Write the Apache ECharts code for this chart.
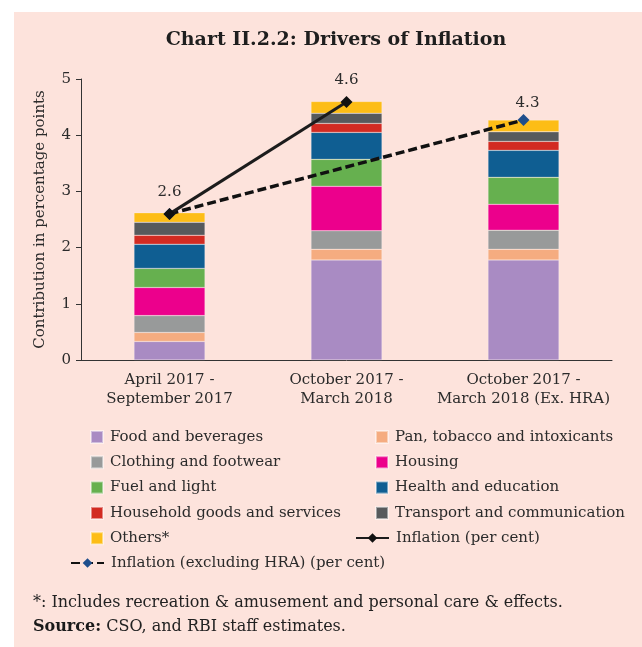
<!DOCTYPE html>
<html>
<head>
<meta charset="utf-8">
<script src="https://cdn.jsdelivr.net/npm/echarts@6/dist/echarts.min.js"></script>
<style>
  html, body { margin: 0; padding: 0; background: #ffffff; }
  #panel { position: absolute; left: 14px; top: 12px; right: 0; bottom: 0; background: #fde3dc; }
  #chart { position: absolute; left: 0; top: 0; width: 642px; height: 647px; }
</style>
</head>
<body>
<div id="panel"></div>
<div id="chart"></div>
<script>
// categories and values
var categories = ['April 2017 -\nSeptember 2017', 'October 2017 -\nMarch 2018', 'October 2017 -\nMarch 2018 (Ex. HRA)']
var food = [0.33, 1.78, 1.78]
var pan = [0.16, 0.19, 0.19]
var clothing = [0.30, 0.33, 0.34]
var housing = [0.50, 0.79, 0.46]
var fuel = [0.34, 0.48, 0.48]
var health = [0.43, 0.48, 0.48]
var household = [0.16, 0.16, 0.16]
var transport = [0.23, 0.18, 0.17]
var others = [0.17, 0.21, 0.21]
var inflation = [2.6, 4.59, null]
var inflationExHra = [2.6, null, 4.27]
var yTicks = [0, 1, 2, 3, 4, 5]

var font = 'DejaVu Serif'
var textColor = '#2b2b2b'

var stacks = [
  { name: 'Food and beverages', data: food, color: '#a98bc3' },
  { name: 'Pan, tobacco and intoxicants', data: pan, color: '#f5ac80' },
  { name: 'Clothing and footwear', data: clothing, color: '#989a9a' },
  { name: 'Housing', data: housing, color: '#ec008c' },
  { name: 'Fuel and light', data: fuel, color: '#66b04f' },
  { name: 'Health and education', data: health, color: '#0f5e92' },
  { name: 'Household goods and services', data: household, color: '#d22b22' },
  { name: 'Transport and communication', data: transport, color: '#575a5c' },
  { name: 'Others*', data: others, color: '#fdbd16' }
]

var series = []
for (var i = 0; i < stacks.length; i++) {
  series.push({
    name: stacks[i].name,
    type: 'bar',
    stack: 'total',
    barWidth: 71,
    data: stacks[i].data,
    itemStyle: {
      color: stacks[i].color,
      borderColor: 'rgba(255,255,255,0.45)',
      borderWidth: 0.5
    }
  })
}

// dashed line first so the black diamond sits on top at the first point
series.push({
  name: 'Inflation (excluding HRA) (per cent)',
  type: 'line',
  data: inflationExHra.map(function (v, i) {
    return { value: v, label: { show: i === 2 } }
  }),
  connectNulls: true,
  symbol: 'diamond',
  symbolSize: 12,
  itemStyle: { color: '#1f4e8c' },
  lineStyle: { color: '#111111', width: 3.5, type: [9, 4] },
  label: {
    position: 'top', distance: 3, offset: [4, 0],
    fontFamily: font, fontSize: 15, color: textColor,
    formatter: function (p) { return p.value.toFixed(1) }
  },
  z: 3
})
series.push({
  name: 'Inflation (per cent)',
  type: 'line',
  data: inflation,
  symbol: 'diamond',
  symbolSize: 12,
  itemStyle: { color: '#111111' },
  lineStyle: { color: '#1c1c1c', width: 3 },
  label: {
    show: true, position: 'top', distance: 8,
    fontFamily: font, fontSize: 15, color: textColor,
    formatter: function (p) { return p.value.toFixed(1) }
  },
  z: 4
})

var legendText = { fontFamily: font, fontSize: 15, color: textColor, lineHeight: 20, padding: [0, 0, 0, 2] }

var myChart = echarts.init(document.getElementById('chart'), null, { renderer: 'canvas' })
myChart.setOption({
  animation: false,
  backgroundColor: 'transparent',
  grid: { left: 81, right: 30, top: 79, bottom: 287 },
  graphic: [
    {
      type: 'text', x: 336, y: 40,
      style: {
        text: 'Chart II.2.2: Drivers of Inflation', font: 'bold 19px "DejaVu Serif"', fill: '#1e1e1e',
        align: 'center', verticalAlign: 'middle'
      }
    },
    {
      type: 'text', x: 33, y: 603,
      style: {
        text: '*: Includes recreation & amusement and personal care & effects.',
        font: '16px "DejaVu Serif"', fill: '#222222', verticalAlign: 'middle'
      }
    },
    {
      type: 'text', x: 33, y: 627,
      style: {
        text: '{b|Source:} CSO, and RBI staff estimates.',
        font: '16px "DejaVu Serif"', fill: '#222222', verticalAlign: 'middle',
        rich: { b: { fontFamily: 'DejaVu Serif', fontSize: 16, fontWeight: 'bold', fill: '#1a1a1a' } }
      }
    }
  ],
  legend: [
    {
      orient: 'vertical', left: 90, top: 427, padding: 0, icon: 'rect',
      itemWidth: 12, itemHeight: 12, itemGap: 5.3,
      textStyle: legendText, selectedMode: false,
      data: ['Food and beverages', 'Clothing and footwear', 'Fuel and light', 'Household goods and services', 'Others*']
    },
    {
      orient: 'vertical', left: 375, top: 427, padding: 0, icon: 'rect',
      itemWidth: 12, itemHeight: 12, itemGap: 5.3,
      textStyle: legendText, selectedMode: false,
      data: ['Pan, tobacco and intoxicants', 'Housing', 'Health and education', 'Transport and communication']
    },
    {
      orient: 'vertical', left: 355, top: 528, padding: 0, itemWidth: 33, itemHeight: 12,
      textStyle: legendText, selectedMode: false,
      data: ['Inflation (per cent)']
    },
    {
      orient: 'vertical', left: 70, top: 553, padding: 0, itemWidth: 33, itemHeight: 12,
      textStyle: legendText, selectedMode: false,
      data: ['Inflation (excluding HRA) (per cent)']
    }
  ],
  xAxis: {
    type: 'category',
    data: categories,
    axisLine: { lineStyle: { color: '#333333', width: 1 } },
    axisTick: { length: 5, lineStyle: { color: '#333333' } },
    axisLabel: { interval: 0, fontFamily: font, fontSize: 15, color: textColor, lineHeight: 19, margin: 11 }
  },
  yAxis: {
    type: 'value',
    min: 0,
    max: 5,
    interval: 1,
    name: 'Contribution in percentage points',
    nameLocation: 'middle',
    nameGap: 33,
    nameTextStyle: { fontFamily: font, fontSize: 15, color: textColor },
    splitLine: { show: false },
    axisLine: { show: true, lineStyle: { color: '#333333', width: 1 } },
    axisTick: { show: true, length: 5, lineStyle: { color: '#333333' } },
    axisLabel: {
      fontFamily: font, fontSize: 15, color: textColor, margin: 10,
      formatter: function (v) { return yTicks.indexOf(v) >= 0 ? String(v) : '' }
    }
  },
  series: series
})
</script>
</body>
</html>
